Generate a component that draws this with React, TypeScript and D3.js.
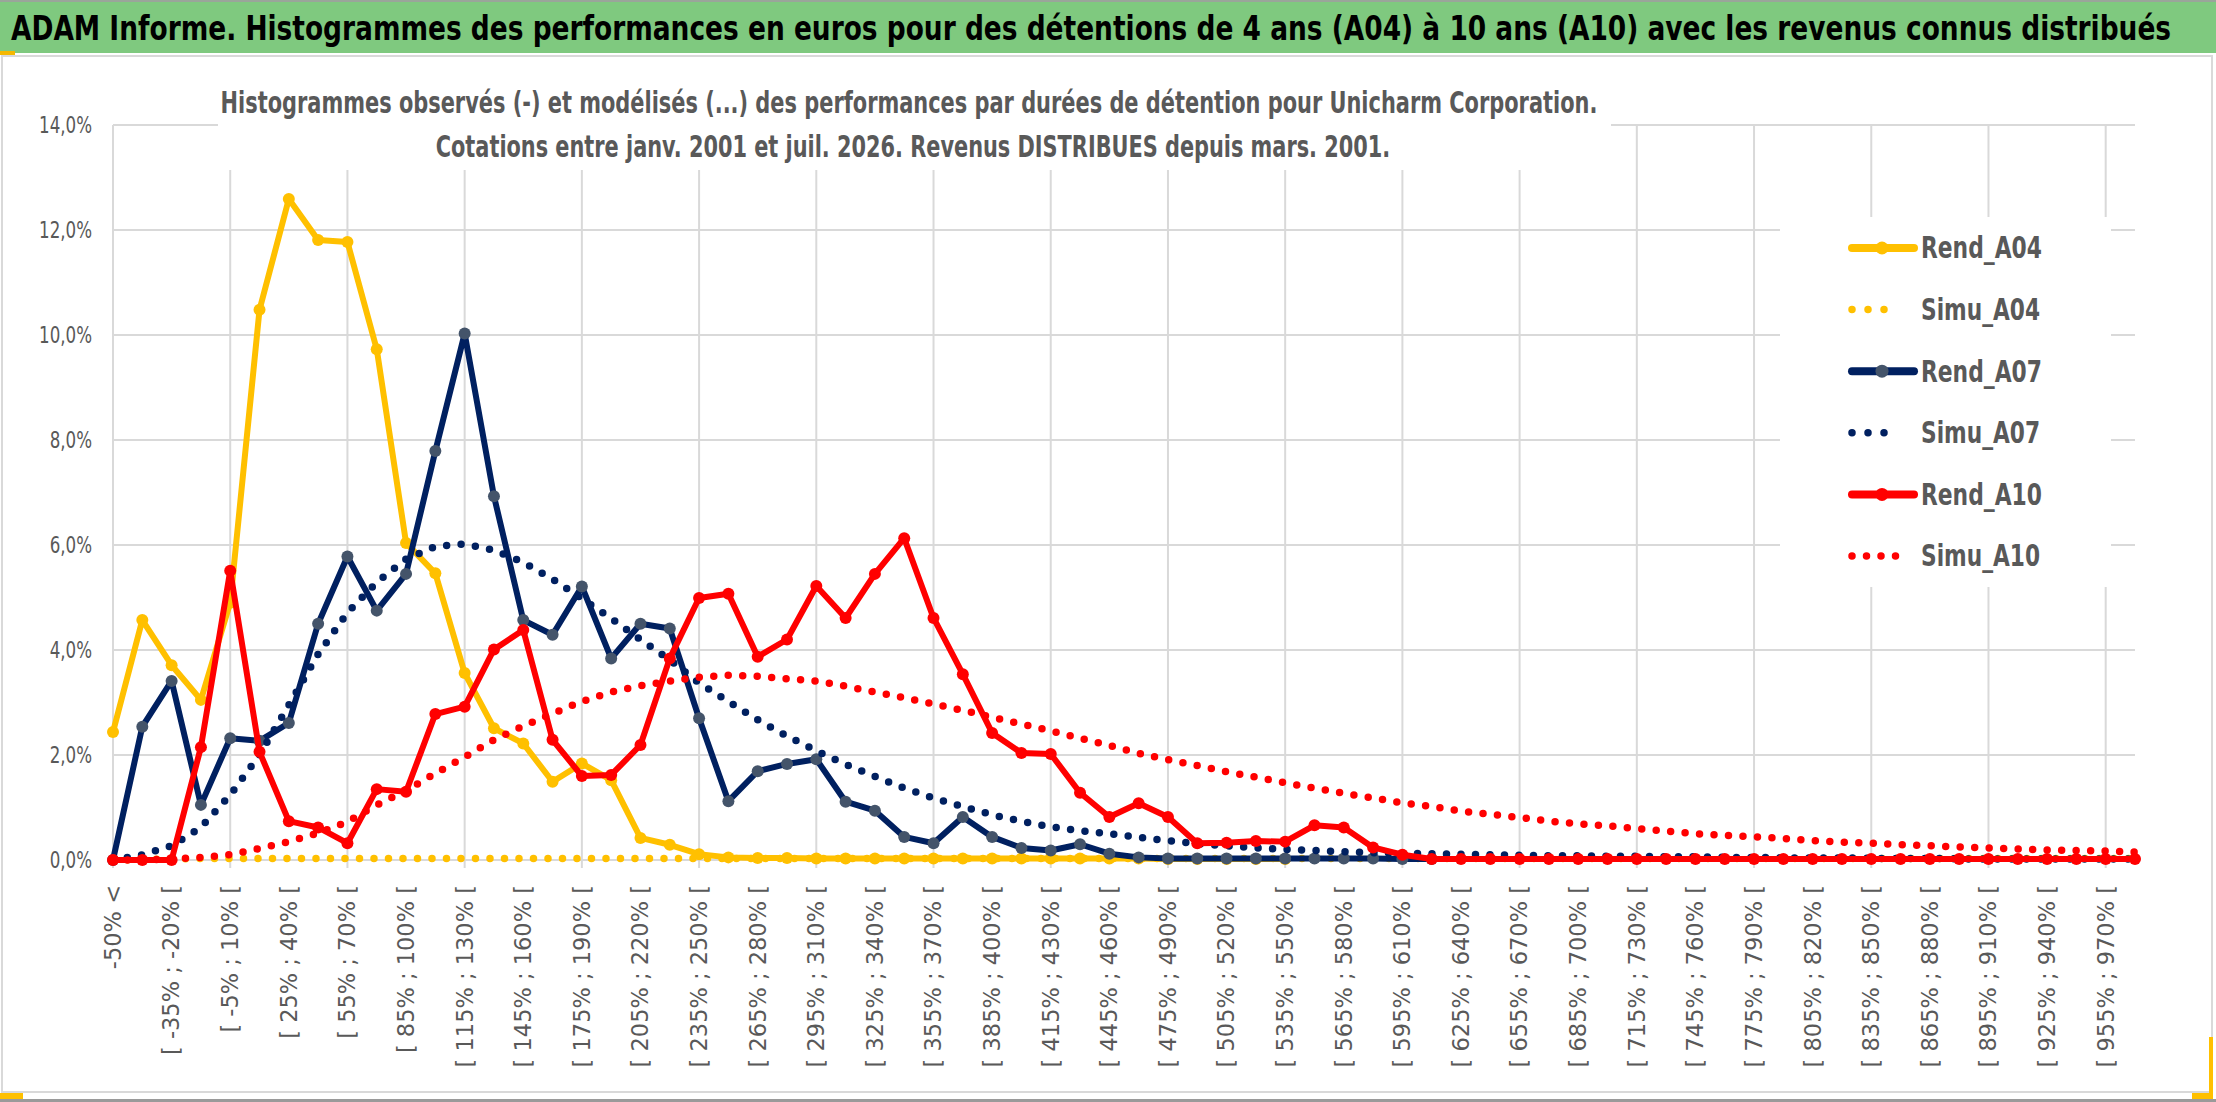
import { useEffect, useRef } from 'react'
import * as d3 from 'd3'

// Categories (15% bins), labels drawn every other bin
const categories = [
  '-50% <', '[ -50% ; -35% [', '[ -35% ; -20% [', '[ -20% ; -5% [', '[ -5% ; 10% [',
  '[ 10% ; 25% [', '[ 25% ; 40% [', '[ 40% ; 55% [', '[ 55% ; 70% [', '[ 70% ; 85% [',
  '[ 85% ; 100% [', '[ 100% ; 115% [', '[ 115% ; 130% [', '[ 130% ; 145% [', '[ 145% ; 160% [',
  '[ 160% ; 175% [', '[ 175% ; 190% [', '[ 190% ; 205% [', '[ 205% ; 220% [', '[ 220% ; 235% [',
  '[ 235% ; 250% [', '[ 250% ; 265% [', '[ 265% ; 280% [', '[ 280% ; 295% [', '[ 295% ; 310% [',
  '[ 310% ; 325% [', '[ 325% ; 340% [', '[ 340% ; 355% [', '[ 355% ; 370% [', '[ 370% ; 385% [',
  '[ 385% ; 400% [', '[ 400% ; 415% [', '[ 415% ; 430% [', '[ 430% ; 445% [', '[ 445% ; 460% [',
  '[ 460% ; 475% [', '[ 475% ; 490% [', '[ 490% ; 505% [', '[ 505% ; 520% [', '[ 520% ; 535% [',
  '[ 535% ; 550% [', '[ 550% ; 565% [', '[ 565% ; 580% [', '[ 580% ; 595% [', '[ 595% ; 610% [',
  '[ 610% ; 625% [', '[ 625% ; 640% [', '[ 640% ; 655% [', '[ 655% ; 670% [', '[ 670% ; 685% [',
  '[ 685% ; 700% [', '[ 700% ; 715% [', '[ 715% ; 730% [', '[ 730% ; 745% [', '[ 745% ; 760% [',
  '[ 760% ; 775% [', '[ 775% ; 790% [', '[ 790% ; 805% [', '[ 805% ; 820% [', '[ 820% ; 835% [',
  '[ 835% ; 850% [', '[ 850% ; 865% [', '[ 865% ; 880% [', '[ 880% ; 895% [', '[ 895% ; 910% [',
  '[ 910% ; 925% [', '[ 925% ; 940% [', '[ 940% ; 955% [', '[ 955% ; 970% [', '[ 970% ; 985% ['
]

// values in %
const rendA04 = [
  2.44, 4.57, 3.71, 3.05, 4.9, 10.48, 12.59, 11.81, 11.77, 9.73,
  6.04, 5.46, 3.56, 2.51, 2.22, 1.49, 1.84, 1.52, 0.42, 0.29,
  0.11, 0.05, 0.04, 0.04, 0.03, 0.03, 0.03, 0.03, 0.03, 0.03,
  0.03, 0.03, 0.03, 0.03, 0.03, 0.03, 0.02, 0.02, 0.02, 0.02,
  0.02, null, null, null, null, null, null, null, null, null,
  null, null, null, null, null, null, null, null, null, null,
  null, null, null, null, null, null, null, null, null, null
]
const simuA04 = [
  0, 0.01, 0.02, 0.03, 0.03, 0.03, 0.03, 0.03, 0.03, 0.03,
  0.03, 0.03, 0.03, 0.03, 0.03, 0.03, 0.03, 0.03, 0.03, 0.03,
  0.03, 0.03, 0.03, 0.03, 0.03, 0.03, 0.03, 0.03, 0.03, 0.03,
  0.03, 0.03, 0.03, 0.03, 0.03, 0.03, 0.03, 0.03, 0.03, 0.03,
  0.03, 0.03, 0.03, 0.03, 0.03, 0.03, 0.03, 0.03, 0.03, 0.03,
  0.03, 0.03, 0.03, 0.03, 0.03, 0.03, 0.03, 0.03, 0.03, 0.03,
  0.03, 0.03, 0.03, 0.03, 0.03, 0.03, 0.03, 0.03, 0.03, 0.03
]
const rendA07 = [
  0, 2.54, 3.41, 1.05, 2.32, 2.27, 2.61, 4.5, 5.78, 4.75,
  5.45, 7.79, 10.03, 6.93, 4.57, 4.29, 5.21, 3.84, 4.5, 4.41,
  2.7, 1.12, 1.69, 1.83, 1.92, 1.11, 0.94, 0.44, 0.32, 0.82,
  0.44, 0.23, 0.18, 0.3, 0.12, 0.05, 0.03, 0.03, 0.03, 0.03,
  0.03, 0.03, 0.03, 0.03, 0.02, 0.02, null, null, null, null,
  null, null, null, null, null, null, null, null, null, null,
  null, null, null, null, null, null, null, null, null, null
]
const simuA07 = [
  0, 0.1, 0.27, 0.62, 1.24, 2.0, 2.95, 3.92, 4.71, 5.29,
  5.73, 5.97, 6.02, 5.9, 5.67, 5.35, 4.98, 4.6, 4.2, 3.81,
  3.37, 3.02, 2.67, 2.36, 2.08, 1.82, 1.59, 1.37, 1.18, 1.02,
  0.86, 0.74, 0.63, 0.56, 0.5, 0.43, 0.37, 0.31, 0.27, 0.23,
  0.2, 0.18, 0.16, 0.14, 0.13, 0.12, 0.11, 0.1, 0.09, 0.08,
  0.08, 0.07, 0.07, 0.06, 0.06, 0.05, 0.05, 0.04, 0.04, 0.04,
  0.03, 0.03, 0.03, 0.02, 0.02, 0.02, 0.02, 0.02, 0.02, 0.02
]
const rendA10 = [
  0, 0, 0, 2.15, 5.51, 2.06, 0.74, 0.62, 0.32, 1.35,
  1.3, 2.78, 2.92, 4.01, 4.38, 2.29, 1.6, 1.62, 2.19, 3.84,
  4.99, 5.07, 3.87, 4.2, 5.22, 4.61, 5.45, 6.13, 4.61, 3.54,
  2.42, 2.04, 2.02, 1.28, 0.82, 1.08, 0.82, 0.32, 0.33, 0.36,
  0.35, 0.66, 0.62, 0.24, 0.1, 0.02, 0.02, 0.02, 0.02, 0.02,
  0.02, 0.02, 0.02, 0.02, 0.02, 0.02, 0.02, 0.02, 0.02, 0.02,
  0.02, 0.02, 0.02, 0.02, 0.02, 0.02, 0.02, 0.02, 0.02, 0.02
]
const simuA10 = [
  0, 0, 0.02, 0.05, 0.1, 0.22, 0.35, 0.51, 0.73, 1.05,
  1.32, 1.65, 1.96, 2.29, 2.55, 2.79, 3.02, 3.2, 3.32, 3.41,
  3.48, 3.52, 3.5, 3.45, 3.41, 3.31, 3.2, 3.09, 2.97, 2.85,
  2.72, 2.59, 2.46, 2.32, 2.18, 2.03, 1.91, 1.8, 1.68, 1.58,
  1.47, 1.37, 1.27, 1.18, 1.09, 1.02, 0.93, 0.87, 0.81, 0.74,
  0.69, 0.65, 0.6, 0.55, 0.5, 0.47, 0.44, 0.41, 0.37, 0.34,
  0.32, 0.29, 0.27, 0.25, 0.23, 0.21, 0.19, 0.18, 0.17, 0.15
]

const yTicks = [0, 2, 4, 6, 8, 10, 12, 14]

interface Series {
  name: string
  values: (number | null)[]
  color: string
  dotted: boolean
  markerFill?: string
}

const series: Series[] = [
  { name: 'Rend_A04', values: rendA04, color: '#FFC000', dotted: false, markerFill: '#FFC000' },
  { name: 'Simu_A04', values: simuA04, color: '#FFC000', dotted: true },
  { name: 'Rend_A07', values: rendA07, color: '#002060', dotted: false, markerFill: '#44546A' },
  { name: 'Simu_A07', values: simuA07, color: '#002060', dotted: true },
  { name: 'Rend_A10', values: rendA10, color: '#FF0000', dotted: false, markerFill: '#FF0000' },
  { name: 'Simu_A10', values: simuA10, color: '#FF0000', dotted: true }
]

const TITLE = 'ADAM Informe. Histogrammes des performances en euros pour des détentions de 4 ans (A04) à 10 ans (A10) avec les revenus connus distribués'
const SUB1 = 'Histogrammes observés (-) et modélisés (...) des performances par durées de détention pour Unicharm Corporation.'
const SUB2 = 'Cotations entre janv. 2001 et juil. 2026. Revenus DISTRIBUES depuis mars. 2001.'

const NARROW = "'Liberation Sans Narrow', 'DejaVu Sans Condensed', 'Roboto Condensed', Roboto, sans-serif"
const GREY_TEXT = '#595959'
const GRID = '#D9D9D9'

// squeeze a text horizontally (around its anchor) so it spans `target` px
function fitWidth(el: SVGTextElement, target: number) {
  const w = el.getComputedTextLength()
  if (!w) return
  const k = target / w
  const x0 = +(el.getAttribute('x') || 0)
  const y0 = +(el.getAttribute('y') || 0)
  el.setAttribute('transform', `translate(${x0},${y0}) scale(${k},1) translate(${-x0},${-y0})`)
}

export default function App() {
  const svgRef = useRef<SVGSVGElement>(null)

  useEffect(() => {
    if (!svgRef.current) return
    const W = 2216
    const H = 1102
    const margin = { top: 125, right: 81, bottom: 242, left: 113 }

    const svg = d3.select(svgRef.current)
    svg.selectAll('*').remove()

    const x = d3.scalePoint<number>()
      .domain(d3.range(categories.length))
      .range([margin.left, W - margin.right])
    const y = d3.scaleLinear()
      .domain([0, 14])
      .range([H - margin.bottom, margin.top])

    svg.append('rect').attr('width', W).attr('height', H).attr('fill', '#fff')

    // green title band
    svg.append('rect').attr('x', 0).attr('y', 0).attr('width', W).attr('height', 53).attr('fill', '#7FC97F')
    svg.append('rect').attr('x', 0).attr('y', 0).attr('width', W).attr('height', 2).attr('fill', '#9aa59a')
    svg.append('rect').attr('x', 0).attr('y', 51).attr('width', 15).attr('height', 4).attr('fill', '#F5B800')
    const title = svg.append('text')
      .attr('x', 11).attr('y', 40)
      .style('font-family', NARROW).style('font-weight', 700).style('font-size', '34px')
      .attr('fill', '#000')
      .text(TITLE)
    fitWidth(title.node()!, 2161)

    // chart frame
    svg.append('rect')
      .attr('x', 2).attr('y', 56).attr('width', 2210).attr('height', 1036)
      .attr('fill', 'none').attr('stroke', GRID).attr('stroke-width', 2)
    svg.append('rect').attr('x', 0).attr('y', 1099).attr('width', W).attr('height', 3).attr('fill', '#9a9a9a')
    svg.append('rect').attr('x', 0).attr('y', 1093).attr('width', 23).attr('height', 6).attr('fill', '#FFC000')
    svg.append('rect').attr('x', 2209).attr('y', 1037).attr('width', 4).attr('height', 62).attr('fill', '#FFC000')
    svg.append('rect').attr('x', 2192).attr('y', 1093).attr('width', 21).attr('height', 6).attr('fill', '#FFC000')

    // gridlines
    const grid = svg.append('g')
    grid.selectAll('line.h')
      .data(yTicks)
      .join('line')
      .attr('class', 'h')
      .attr('x1', margin.left).attr('x2', W - margin.right)
      .attr('y1', d => y(d)).attr('y2', d => y(d))
      .attr('stroke', GRID).attr('stroke-width', 2)
    grid.selectAll('line.v')
      .data(d3.range(0, categories.length, 4))
      .join('line')
      .attr('class', 'v')
      .attr('x1', d => x(d)!).attr('x2', d => x(d)!)
      .attr('y1', y(14)).attr('y2', y(0) + 8)
      .attr('stroke', GRID).attr('stroke-width', 2)

    // white boxes of the chart title and legend
    svg.append('rect').attr('x', 218).attr('y', 70).attr('width', 1393).attr('height', 100).attr('fill', '#fff')
    svg.append('rect').attr('x', 1780).attr('y', 217).attr('width', 331).attr('height', 370).attr('fill', '#fff')

    // series
    const line = d3.line<number | null>()
      .defined(d => d !== null)
      .x((_, i) => x(i)!)
      .y(d => y(d as number))

    series.forEach(s => {
      const g = svg.append('g')
      g.append('path')
        .datum(s.values)
        .attr('d', line)
        .attr('fill', 'none')
        .attr('stroke', s.color)
        .attr('stroke-width', s.dotted ? 7.5 : 6)
        .attr('stroke-linejoin', 'round')
        .attr('stroke-linecap', 'round')
        .attr('stroke-dasharray', s.dotted ? '0 14.5' : null)
      if (!s.dotted) {
        g.selectAll('circle')
          .data(s.values.map((v, i) => ({ v, i })).filter(d => d.v !== null))
          .join('circle')
          .attr('cx', d => x(d.i)!)
          .attr('cy', d => y(d.v as number))
          .attr('r', 6)
          .attr('fill', s.markerFill!)
      }
    })

    // y axis labels
    const yLabels = svg.append('g').selectAll<SVGTextElement, number>('text')
      .data(yTicks)
      .join('text')
      .attr('x', 92).attr('y', d => y(d))
      .attr('dy', '0.35em')
      .attr('text-anchor', 'end')
      .style('font-family', NARROW).style('font-size', '23px')
      .attr('fill', GREY_TEXT)
      .text(d => `${d},0%`)
    const widest = yLabels.nodes()[yLabels.nodes().length - 1]
    const kY = 53 / (widest.getComputedTextLength() || 53)
    yLabels.each(function () {
      this.setAttribute('transform', `translate(92,0) scale(${kY},1) translate(-92,0)`)
    })

    // x axis labels
    svg.append('g').selectAll('text')
      .data(categories.map((c, i) => ({ c, i })).filter(d => d.i % 2 === 0))
      .join('text')
      .attr('transform', d => `translate(${x(d.i)},885) rotate(-90)`)
      .attr('dy', '0.35em')
      .attr('text-anchor', 'end')
      .style('font-family', "'DejaVu Sans', Verdana, sans-serif").style('font-size', '22.5px')
      .attr('fill', GREY_TEXT)
      .text(d => d.c)

    // chart title
    const sub = svg.append('g')
      .style('font-family', NARROW).style('font-weight', 700).style('font-size', '30px')
      .attr('fill', GREY_TEXT)
      .attr('text-anchor', 'middle')
    const s1 = sub.append('text').attr('x', 909).attr('y', 113).text(SUB1)
    const s2 = sub.append('text').attr('x', 913).attr('y', 157).text(SUB2)
    fitWidth(s1.node()!, 1377)
    fitWidth(s2.node()!, 955)

    // legend
    const legend = svg.append('g')
    series.forEach((s, i) => {
      const cy = 248 + i * 61.6
      const row = legend.append('g')
      row.append('line')
        .attr('x1', 1852).attr('x2', s.dotted ? (s.name === 'Simu_A10' ? 1910 : 1900) : 1914)
        .attr('y1', cy).attr('y2', cy)
        .attr('stroke', s.color)
        .attr('stroke-width', s.dotted ? 7.5 : 8)
        .attr('stroke-linecap', 'round')
        .attr('stroke-dasharray', s.dotted ? (s.name === 'Simu_A10' ? '0 14.5' : '0 16') : null)
      if (!s.dotted) {
        row.append('circle').attr('cx', 1882).attr('cy', cy).attr('r', 6.5).attr('fill', s.markerFill!)
      }
      const t = row.append('text')
        .attr('x', 1921).attr('y', cy)
        .attr('dy', '0.35em')
        .style('font-family', NARROW).style('font-weight', 700).style('font-size', '30px')
        .attr('fill', GREY_TEXT)
        .text(s.name)
      fitWidth(t.node()!, s.dotted ? 119 : 121)
    })
  }, [])

  return (
    <svg
      ref={svgRef}
      width={2216}
      height={1102}
      style={{ position: 'absolute', left: 0, top: 0, display: 'block' }}
    />
  )
}
